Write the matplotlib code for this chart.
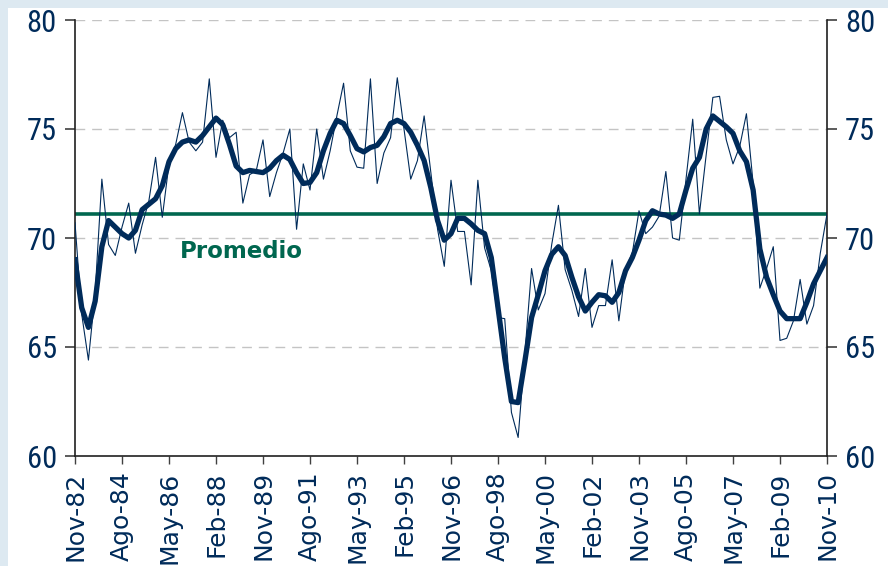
import matplotlib
matplotlib.use("Agg")
import matplotlib.pyplot as plt
from matplotlib.patches import Rectangle
from matplotlib import font_manager

# ---- data (quarterly, Nov-82 .. Nov-10) ----
tick_labels = ["Nov-82", "Ago-84", "May-86", "Feb-88", "Nov-89", "Ago-91", "May-93",
               "Feb-95", "Nov-96", "Ago-98", "May-00", "Feb-02", "Nov-03", "Ago-05",
               "May-07", "Feb-09", "Nov-10"]

quarterly = [70.7, 66.5, 64.4, 67.5, 72.7, 69.7, 69.2, 70.5, 71.6, 69.3,
             70.6, 71.7, 73.7, 70.95, 73.4, 74.3, 75.75, 74.4, 74.0, 74.4,
             77.3, 73.7, 75.4, 74.6, 74.85, 71.6, 72.9, 73.1, 74.5, 71.9,
             73.0, 73.9, 75.0, 70.4, 73.4, 72.2, 75.0, 72.7, 74.0, 75.6,
             77.1, 74.0, 73.25, 73.2, 77.3, 72.5, 73.9, 74.6, 77.35, 75.0,
             72.7, 73.55, 75.6, 73.0, 70.4, 68.7, 72.65, 70.3, 70.3, 67.85,
             72.65, 69.55, 68.5, 66.35, 66.3, 62.0, 60.85, 64.7, 68.6, 66.7,
             67.45, 69.7, 71.5, 68.55, 67.6, 66.4, 68.6, 65.9, 66.9, 66.9,
             69.0, 66.2, 68.6, 69.3, 71.25, 70.2, 70.5, 71.0, 73.05, 70.0,
             69.9, 72.7, 75.45, 71.1, 73.8, 76.45, 76.5, 74.5, 73.4, 74.2,
             75.7, 72.5, 67.7, 68.6, 69.6, 65.3, 65.4, 66.2, 68.1, 66.05,
             66.9, 69.3, 71.1]

smoothed = [69.0, 66.8, 65.9, 67.1, 69.6, 70.8, 70.5, 70.2, 70.0, 70.35,
            71.3, 71.55, 71.8, 72.4, 73.5, 74.1, 74.4, 74.5, 74.4, 74.7,
            75.1, 75.5, 75.2, 74.3, 73.3, 73.0, 73.1, 73.05, 73.0, 73.2,
            73.55, 73.8, 73.6, 73.0, 72.5, 72.55, 73.0, 74.0, 74.8, 75.4,
            75.25, 74.7, 74.1, 73.95, 74.15, 74.25, 74.65, 75.25, 75.4, 75.25,
            74.85, 74.25, 73.55, 72.3, 70.8, 69.9, 70.2, 70.9, 70.9, 70.65,
            70.35, 70.2, 69.1, 66.8, 64.5, 62.5, 62.45, 64.35, 66.35, 67.4,
            68.5, 69.25, 69.6, 69.2, 68.2, 67.3, 66.65, 67.05, 67.4, 67.35,
            67.05, 67.5, 68.5, 69.1, 69.9, 70.8, 71.25, 71.1, 71.05, 70.9,
            71.1, 72.2, 73.2, 73.7, 75.0, 75.6, 75.35, 75.1, 74.8, 74.0,
            73.5, 72.2, 69.5, 68.2, 67.4, 66.65, 66.3, 66.3, 66.3, 67.05,
            67.9, 68.5, 69.1]

average = 71.1
avg_label = "Promedio"
y_ticks = [60, 65, 70, 75, 80]

# ---- style ----
navy = "#002b5a"
green = "#00674f"
bg_blue = "#dde9f1"

def pick(fams):
    avail = {f.name for f in font_manager.fontManager.ttflist}
    return [f for f in fams if f in avail] + ["DejaVu Sans"]

narrow = pick(["Liberation Sans Narrow", "DejaVu Sans Condensed", "Roboto Condensed"])

W, H = 888, 566
fig = plt.figure(figsize=(W / 100, H / 100), dpi=100, facecolor="white")
# light-blue frame strips at top and left
fig.patches.append(Rectangle((0, 1 - 8 / H), 1, 8 / H, transform=fig.transFigure,
                             facecolor=bg_blue, edgecolor="none", zorder=-5))
fig.patches.append(Rectangle((0, 0), 8 / W, 1, transform=fig.transFigure,
                             facecolor=bg_blue, edgecolor="none", zorder=-5))

ax = fig.add_axes([75 / W, 1 - 456 / H, (827 - 75) / W, (456 - 20) / H])
ax.set_facecolor("none")

x = list(range(len(quarterly)))
ax.plot(x, quarterly, color=navy, lw=0.8, zorder=3)
ax.plot(x, smoothed, color=navy, lw=3.8, zorder=4, solid_joinstyle="round")
ax.axhline(average, color=green, lw=2.6, zorder=2)
ax.text(15.6, 69.1, avg_label, color=green, fontsize=16.5, fontweight="bold",
        family="DejaVu Sans", va="baseline", ha="left")

ax.set_xlim(0, len(quarterly) - 1)
ax.set_ylim(60, 80)
ax.set_yticks(y_ticks)
ax.set_xticks(list(range(0, len(quarterly), 7)))
ax.set_xticklabels(tick_labels, rotation=90, fontsize=18, color=navy, family="DejaVu Sans")

for yv in y_ticks[1:]:
    ax.axhline(yv, color="#c4c4c4", lw=1.0, dashes=(7, 5), zorder=1)

ax.tick_params(axis="y", which="both", left=True, right=True, labelleft=True,
               labelright=True, length=7, width=1.2, color="#404040",
               labelsize=22, labelcolor=navy, pad=6)
for lab in ax.get_yticklabels():
    lab.set_family(narrow)
ax.tick_params(axis="x", length=6, width=1.0, color="#404040", pad=5)

for s in ["left", "right", "bottom"]:
    ax.spines[s].set_color("#202020")
    ax.spines[s].set_linewidth(1.2)
ax.spines["top"].set_visible(False)

fig.savefig("out.png", dpi=100)
